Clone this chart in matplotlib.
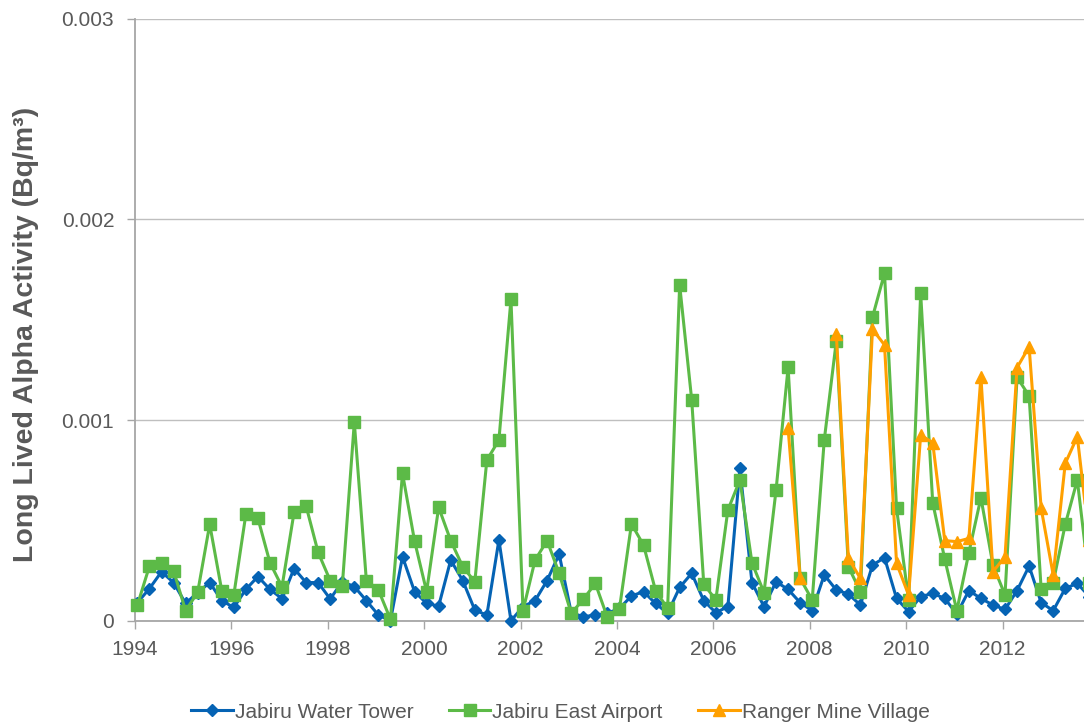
import numpy as np
import matplotlib
matplotlib.use('Agg')
import matplotlib.pyplot as plt
from matplotlib.ticker import FuncFormatter

plt.rcParams['font.family'] = ['Liberation Sans', 'DejaVu Sans']

# quarterly samples, values in 10^-3 Bq/m3
start_year = 1994.05
water_tower = [0.09, 0.16, 0.244, 0.19, 0.086, 0.14, 0.19, 0.10, 0.066, 0.156,
               0.22, 0.156, 0.11, 0.26, 0.19, 0.19, 0.108, 0.195, 0.17, 0.10,
               0.028, 0.0, 0.319, 0.145, 0.086, 0.073, 0.302, 0.2, 0.053, 0.028,
               0.402, 0.0, 0.07, 0.10, 0.2, 0.332, 0.04, 0.02, 0.028, 0.037,
               0.061, 0.123, 0.145, 0.086, 0.037, 0.166, 0.236, 0.10, 0.04, 0.07,
               0.759, 0.19, 0.07, 0.194, 0.156, 0.09, 0.05, 0.228, 0.153, 0.133,
               0.078, 0.277, 0.314, 0.111, 0.045, 0.12, 0.136, 0.111, 0.033, 0.15,
               0.111, 0.078, 0.056, 0.15, 0.272, 0.09, 0.05, 0.161, 0.186, 0.12]
east_airport = [0.078, 0.272, 0.289, 0.249, 0.05, 0.141, 0.48, 0.15, 0.128, 0.53,
                0.51, 0.289, 0.169, 0.54, 0.571, 0.34, 0.2, 0.173, 0.988, 0.2,
                0.153, 0.007, 0.734, 0.397, 0.145, 0.565, 0.399, 0.269, 0.194, 0.80,
                0.90, 1.601, 0.05, 0.302, 0.399, 0.236, 0.037, 0.106, 0.186, 0.017,
                0.058, 0.482, 0.377, 0.15, 0.061, 1.673, 1.10, 0.183, 0.103, 0.551,
                0.701, 0.289, 0.14, 0.651, 1.262, 0.211, 0.103, 0.90, 1.394, 0.269,
                0.145, 1.512, 1.731, 0.56, 0.103, 1.631, 0.588, 0.307, 0.05, 0.339,
                0.613, 0.277, 0.128, 1.213, 1.12, 0.156, 0.19, 0.48, 0.701, 0.19]
# Ranger starts in quarter 55 (mid 2007), two missing samples
ranger_start = 54
ranger_village = [0.958, 0.211, np.nan, np.nan, 1.429, 0.311, 0.211, 1.452, 1.374, 0.286,
                  0.128, 0.925, 0.887, 0.399, 0.394, 0.41, 1.216, 0.244, 0.319, 1.261,
                  1.365, 0.56, 0.228, 0.784, 0.917, 0.4]

x = start_year + 0.25*np.arange(len(water_tower))
xr = x[ranger_start:ranger_start+len(ranger_village)]
wt = np.array(water_tower)*1e-3
ea = np.array(east_airport)*1e-3
rv = np.array(ranger_village)*1e-3

fig = plt.figure(figsize=(10.84, 7.26), dpi=100)
ax = fig.add_axes([135/1084, (726-620.7)/726, 1-135/1084, (620.7-18.6)/726])

ax.plot(x, wt, color='#0563B4', lw=2.2, marker='D', ms=6.5, label='Jabiru Water Tower', clip_on=False, zorder=3)
ax.plot(x, ea, color='#5CBA47', lw=2.2, marker='s', ms=8, label='Jabiru East Airport', clip_on=False, zorder=4)
ax.plot(xr, rv, color='#FFA000', lw=2.2, marker='^', ms=9, label='Ranger Mine Village', clip_on=False, zorder=5)

ax.set_xlim(1994, 1994 + (1084-135)/48.2)
ax.set_ylim(0, 0.003)
ax.set_xticks(np.arange(1994, 2013, 2))
ax.set_yticks([0, 0.001, 0.002, 0.003])
ax.yaxis.set_major_formatter(FuncFormatter(lambda v, p: '0' if v == 0 else '%.3f' % v))
ax.grid(axis='y', color='#BFBFBF', lw=1)
ax.set_axisbelow(True)
for s in ['top', 'right']:
    ax.spines[s].set_visible(False)
for s in ['left', 'bottom']:
    ax.spines[s].set_color('#A6A6A6')
    ax.spines[s].set_linewidth(1.3)
ax.tick_params(colors='#A6A6A6', labelcolor='#595959', labelsize=15, length=6, width=1)
ax.tick_params(axis='x', pad=8)
ax.tick_params(axis='y', pad=9)
ax.set_ylabel('Long Lived Alpha Activity (Bq/m³)', fontsize=20.5, fontweight='bold', color='#595959')
ax.yaxis.set_label_coords(-0.101, 0.475)

fig.legend(loc='center', bbox_to_anchor=(0.517, 0.019), ncol=3, frameon=False, fontsize=15,
           labelcolor='#595959', handlelength=2.0, handletextpad=0.1, columnspacing=1.7)

fig.savefig('out.png', dpi=100)
